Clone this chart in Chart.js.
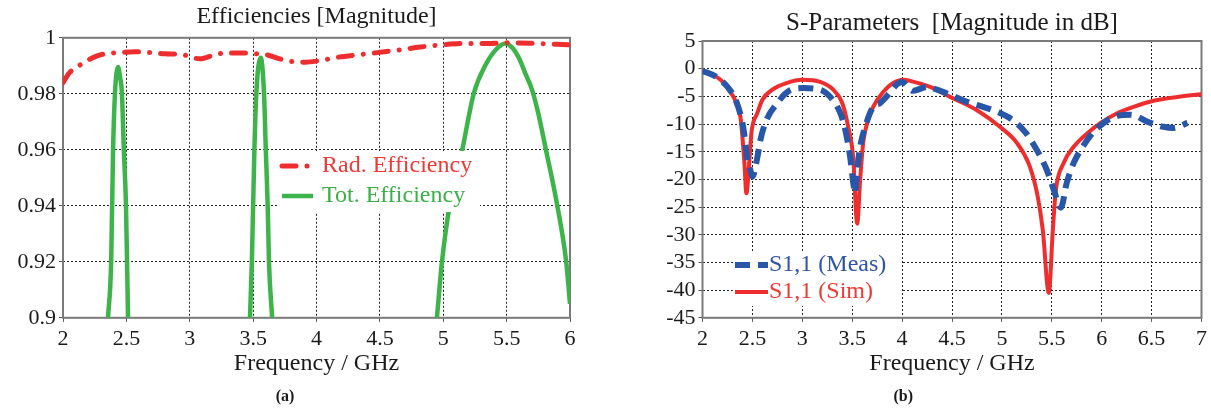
<!DOCTYPE html>
<html>
<head>
<meta charset="utf-8">
<script src="https://cdn.jsdelivr.net/npm/chart.js@4.4.0/dist/chart.umd.min.js"></script>
<style>
  html, body { margin: 0; padding: 0; background: #fff; }
  #wrap { position: relative; width: 1211px; height: 411px; overflow: hidden; }
  .box { position: absolute; top: 0; height: 411px; }
  #boxA { left: 0; width: 600px; }
  #boxB { left: 605px; width: 606px; }
</style>
</head>
<body>
<div id="wrap">
  <div class="box" id="boxA"><canvas id="effChart"></canvas></div>
  <div class="box" id="boxB"><canvas id="sparChart"></canvas></div>
</div>
<script>
// (a) efficiencies
const radFreq = [2.0, 2.05, 2.15, 2.25, 2.33, 2.44, 2.57, 2.7, 2.8, 2.94, 3.08, 3.2, 3.3, 3.4, 3.52, 3.6, 3.71, 3.83, 3.91, 4.02, 4.16, 4.34, 4.48, 4.66, 4.82, 4.99, 5.19, 5.34, 5.5, 5.71, 6.0];
const radEff = [0.984, 0.9875, 0.9907, 0.9932, 0.9943, 0.9947, 0.995, 0.9947, 0.9943, 0.994, 0.9925, 0.994, 0.9946, 0.9946, 0.9943, 0.994, 0.9925, 0.9914, 0.9913, 0.9918, 0.993, 0.994, 0.9947, 0.9957, 0.9967, 0.9975, 0.998, 0.998, 0.9982, 0.998, 0.9975];

// null = curve leaves the plotted range (below 0.9)
const totFreq = [2.355, 2.38, 2.395, 2.41, 2.434, 2.45, 2.465, 2.48, 2.497, 2.513,
  3.0,
  3.475, 3.49, 3.51, 3.525, 3.56, 3.586, 3.6, 3.615, 3.625, 3.65,
  4.5,
  4.95, 4.99, 5.05, 5.15, 5.24, 5.33, 5.42, 5.49, 5.55, 5.6, 5.65, 5.7, 5.75, 5.81, 5.9, 5.97, 6.0];
const totEff = [0.9, 0.92, 0.96, 0.98, 0.9896, 0.986, 0.98, 0.96, 0.94, 0.9,
  null,
  0.9, 0.92, 0.96, 0.98, 0.9929, 0.98, 0.96, 0.94, 0.92, 0.9,
  null,
  0.9, 0.92, 0.94, 0.96, 0.98, 0.99, 0.996, 0.998, 0.9962, 0.9925, 0.987, 0.9815, 0.973, 0.96, 0.94, 0.92, 0.905];

const effTicksX = [2, 2.5, 3, 3.5, 4, 4.5, 5, 5.5, 6];
const effTicksY = [0.9, 0.92, 0.94, 0.96, 0.98, 1];

// (b) S11 in dB
const simFreq = [2.0, 2.18, 2.28, 2.34, 2.38, 2.4, 2.42, 2.44, 2.47, 2.49, 2.55, 2.6, 2.7, 2.84, 3.0, 3.18, 3.31, 3.4, 3.46, 3.51, 3.55, 3.58, 3.61, 3.65, 3.71, 3.81, 3.91, 4.01, 4.08, 4.28, 4.48, 4.75, 4.98, 5.15, 5.28, 5.36, 5.41, 5.47, 5.51, 5.54, 5.62, 5.72, 5.86, 5.99, 6.16, 6.32, 6.52, 6.76, 7.0];
const simS11 = [-0.3, -2.0, -4.2, -6.2, -8.7, -12.3, -17, -22.5, -16.5, -11.6, -8, -5.6, -3.8, -2.6, -2.0, -2.4, -3.8, -6.2, -10.5, -16, -28, -20, -13.4, -9.8, -6.9, -4.2, -2.6, -2.0, -2.2, -3.3, -5.1, -7.5, -10.5, -13.4, -17.7, -23.2, -29.2, -40.5, -29.2, -22, -17, -14.1, -11.6, -9.8, -8, -6.9, -5.8, -5.1, -4.6];

const measFreq = [2.0, 2.14, 2.26, 2.34, 2.4, 2.43, 2.45, 2.48, 2.5, 2.55, 2.58, 2.64, 2.75, 2.85, 3.01, 3.18, 3.28, 3.38, 3.43, 3.48, 3.51, 3.53, 3.55, 3.58, 3.63, 3.71, 3.78, 3.86, 3.95, 4.0, 4.11, 4.25, 4.35, 4.48, 4.65, 4.81, 4.98, 5.11, 5.24, 5.35, 5.45, 5.52, 5.59, 5.65, 5.72, 5.81, 5.91, 6.02, 6.16, 6.29, 6.46, 6.62, 6.72, 6.86];
const measS11 = [-0.4, -1.5, -3.5, -6, -9.8, -13.4, -16.5, -18.3, -19.5, -16, -12.9, -9.3, -6.2, -4.2, -3.5, -3.8, -5.1, -8, -11, -16, -20.6, -22.5, -18.3, -14.1, -10.5, -6.9, -6.2, -4.7, -2.8, -2.4, -4.0, -3.3, -3.8, -4.7, -6, -6.9, -8, -9.3, -11.6, -14.7, -18.3, -21.9, -25.1, -20.6, -17, -14.1, -11.6, -9.8, -8.5, -8.3, -9.6, -10.5, -10.7, -9.8];

const sparTicksX = [2, 2.5, 3, 3.5, 4, 4.5, 5, 5.5, 6, 6.5, 7];
const sparTicksY = [-45, -40, -35, -30, -25, -20, -15, -10, -5, 0, 5];

const serif = '"Liberation Serif", "Times New Roman", serif';
Chart.defaults.font.family = serif;
Chart.defaults.color = '#1a1a1a';

function pts(xs, ys) {
  return xs.map((x, i) => ({ x: x, y: ys[i] }));
}

// full box round the plot area
const frame = {
  id: 'frame',
  beforeDatasetsDraw(chart) {
    const a = chart.chartArea, ctx = chart.ctx;
    ctx.save();
    ctx.strokeStyle = '#7a7a7a';
    ctx.lineWidth = 2;
    ctx.strokeRect(a.left, a.top, a.right - a.left, a.bottom - a.top);
    ctx.restore();
  }
};

// legend drawn inside the plot on a white patch
const boxLegend = {
  id: 'boxLegend',
  afterDatasetsDraw(chart, args, o) {
    const ctx = chart.ctx;
    ctx.save();
    ctx.fillStyle = '#fff';
    ctx.fillRect(o.x, o.y, o.w, o.h);
    chart.data.datasets.forEach((ds, i) => {
      const y = o.rows[i];
      ctx.strokeStyle = ds.borderColor;
      ctx.lineWidth = ds.borderWidth;
      ctx.lineCap = ds.borderCapStyle || 'butt';
      ctx.setLineDash(ds.borderDash || []);
      ctx.beginPath();
      ctx.moveTo(o.lineFrom, y);
      ctx.lineTo(o.lineTo, y);
      ctx.stroke();
      ctx.setLineDash([]);
      ctx.fillStyle = o.textColors[i];
      ctx.font = o.font;
      ctx.textBaseline = 'middle';
      ctx.fillText(ds.label, o.textX, y);
    });
    ctx.restore();
  }
};

function gridOpts() {
  return {
    color: '#222',
    lineWidth: 1,
    tickLength: 4,
    tickColor: '#555',
    tickBorderDash: []
  };
}
const dotted = { display: false, dash: [2, 2] };

new Chart(document.getElementById('effChart'), {
  type: 'line',
  data: {
    datasets: [{
      label: 'Rad. Efficiency',
      data: pts(radFreq, radEff),
      borderColor: '#ee2e2e',
      borderWidth: 5,
      borderDash: [14, 11, 0.1, 11],
      borderCapStyle: 'round',
      pointRadius: 0,
      cubicInterpolationMode: 'monotone'
    }, {
      label: 'Tot. Efficiency',
      data: pts(totFreq, totEff),
      borderColor: '#3cb44a',
      borderWidth: 4.5,
      pointRadius: 0,
      spanGaps: false,
      cubicInterpolationMode: 'monotone'
    }]
  },
  options: {
    responsive: true,
    maintainAspectRatio: false,
    animation: false,
    layout: { padding: { left: 0, right: 30 } },
    plugins: {
      legend: { display: false },
      tooltip: { enabled: false },
      title: {
        display: true,
        text: 'Efficiencies [Magnitude]',
        fullSize: false,
        color: '#1a1a1a',
        font: { size: 24, weight: 'normal' },
        padding: { top: 2, bottom: 7 }
      },
      subtitle: {
        display: true,
        text: '(a)',
        position: 'bottom',
        color: '#1a1a1a',
        font: { size: 16, weight: 'bold' },
        padding: { top: 9, bottom: 5 }
      },
      boxLegend: {
        x: 278, y: 151, w: 202, h: 61,
        rows: [166, 196],
        lineFrom: 282, lineTo: 313, textX: 322,
        font: '24px ' + serif,
        textColors: ['#ee3a36', '#3cae4a']
      }
    },
    scales: {
      x: {
        type: 'linear',
        min: 2, max: 6,
        afterBuildTicks: s => { s.ticks = effTicksX.map(v => ({ value: v })); },
        afterFit: s => { s.height = 60; },
        grid: gridOpts(),
        border: dotted,
        ticks: { padding: 4, autoSkip: false, maxRotation: 0, font: { size: 22 }, callback: v => String(v) },
        title: { display: true, text: 'Frequency / GHz', font: { size: 24 }, padding: 0 }
      },
      y: {
        min: 0.9, max: 1,
        afterBuildTicks: s => { s.ticks = effTicksY.map(v => ({ value: v })); },
        afterFit: s => { s.width = 63; },
        grid: gridOpts(),
        border: dotted,
        ticks: { padding: 3, autoSkip: false, font: { size: 22 }, callback: v => String(+v.toFixed(2)) }
      }
    }
  },
  plugins: [frame, boxLegend]
});

new Chart(document.getElementById('sparChart'), {
  type: 'line',
  data: {
    datasets: [{
      label: 'S1,1 (Meas)',
      data: pts(measFreq, measS11),
      borderColor: '#2856a8',
      borderWidth: 6,
      borderDash: [15, 8],
      pointRadius: 0,
      cubicInterpolationMode: 'monotone'
    }, {
      label: 'S1,1 (Sim)',
      data: pts(simFreq, simS11),
      borderColor: '#ee2e2e',
      borderWidth: 4,
      pointRadius: 0,
      cubicInterpolationMode: 'monotone'
    }]
  },
  options: {
    responsive: true,
    maintainAspectRatio: false,
    animation: false,
    layout: { padding: { left: 0, right: 9.5 } },
    plugins: {
      legend: { display: false },
      tooltip: { enabled: false },
      title: {
        display: true,
        text: 'S-Parameters  [Magnitude in dB]',
        fullSize: false,
        color: '#1a1a1a',
        font: { size: 25, weight: 'normal' },
        padding: { top: 8, bottom: 3 }
      },
      subtitle: {
        display: true,
        text: '(b)',
        position: 'bottom',
        color: '#1a1a1a',
        font: { size: 16, weight: 'bold' },
        padding: { top: 9, bottom: 5 }
      },
      boxLegend: {
        x: 128, y: 252, w: 168, h: 54,
        rows: [265, 292],
        lineFrom: 130, lineTo: 163, textX: 164,
        font: '24px ' + serif,
        textColors: ['#2f55a4', '#ee3a36']
      }
    },
    scales: {
      x: {
        type: 'linear',
        min: 2, max: 7,
        afterBuildTicks: s => { s.ticks = sparTicksX.map(v => ({ value: v })); },
        afterFit: s => { s.height = 60; },
        grid: gridOpts(),
        border: dotted,
        ticks: { padding: 4, autoSkip: false, maxRotation: 0, font: { size: 22 }, callback: v => String(v) },
        title: { display: true, text: 'Frequency / GHz', font: { size: 24 }, padding: 0 }
      },
      y: {
        min: -45, max: 5,
        afterBuildTicks: s => { s.ticks = sparTicksY.map(v => ({ value: v })); },
        afterFit: s => { s.width = 97.5; },
        grid: gridOpts(),
        border: dotted,
        ticks: { padding: 3, autoSkip: false, font: { size: 22 }, callback: v => String(v) }
      }
    }
  },
  plugins: [frame, boxLegend]
});
</script>
</body>
</html>
